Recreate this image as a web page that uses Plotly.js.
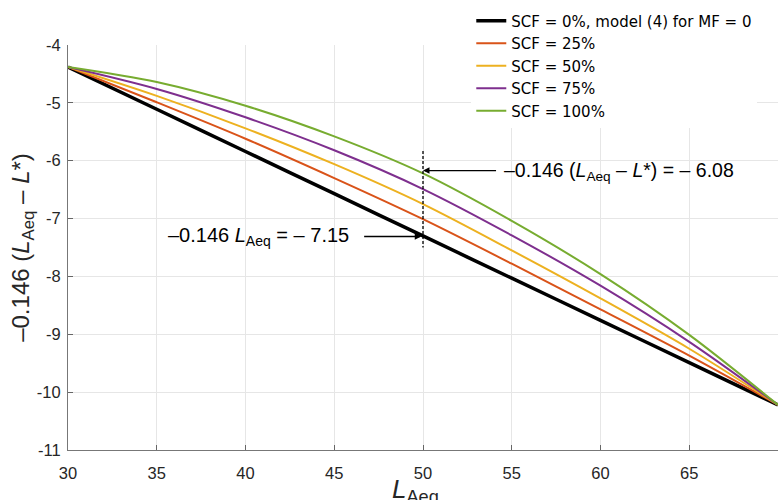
<!DOCTYPE html>
<html>
<head>
<meta charset="utf-8">
<script src="https://cdn.plot.ly/plotly-3.0.1.min.js"></script>
<style>html,body{margin:0;padding:0;background:#fff;}#chart{width:783px;height:500px;}</style>
</head>
<body>
<div id="chart"></div>
<script>
// L_Aeq sample points
const lAeq = [30, 35, 40, 45, 50, 55, 60, 65, 70];
// -0.146 (L_Aeq - L*) for each SCF
const scf0   = [-4.38, -5.11, -5.84, -6.57, -7.30, -8.03, -8.76, -9.49, -10.22];
const scf25  = [-4.38, -4.99, -5.62, -6.30, -7.01, -7.78, -8.57, -9.37, -10.22];
const scf50  = [-4.38, -4.88, -5.44, -6.06, -6.75, -7.55, -8.38, -9.25, -10.22];
const scf75  = [-4.38, -4.76, -5.25, -5.82, -6.49, -7.29, -8.16, -9.13, -10.22];
const scf100 = [-4.38, -4.64, -5.05, -5.58, -6.22, -7.04, -7.96, -9.01, -10.22];
const seriesNames = ['SCF = 0%, model (4) for MF = 0', 'SCF = 25%', 'SCF = 50%', 'SCF = 75%', 'SCF = 100%'];
// tick labels
const xTickVals = [30, 35, 40, 45, 50, 55, 60, 65, 70];
const xTickText = ['30', '35', '40', '45', '50', '55', '60', '65', '70'];
const yTickVals = [-11, -10, -9, -8, -7, -6, -5, -4];
const yTickText = ['-11', '-10', '-9', '-8', '-7', '-6', '-5', '-4'];

const colors = ['#000000', '#D95319', '#EDB120', '#7E2F8E', '#77AC30'];
const widths = [3.5, 2, 2, 2, 2];
const ys = [scf0, scf25, scf50, scf75, scf100];

const traces = ys.map((y, i) => ({
  x: lAeq, y: y, type: 'scatter', mode: 'lines', name: seriesNames[i],
  line: {color: colors[i], width: widths[i], shape: 'spline', smoothing: 0.9}
}));

const font = 'Liberation Sans, Arial, Helvetica, sans-serif';
const layout = {
  width: 783, height: 500,
  margin: {l: 68, r: 5, t: 38, b: 50},
  paper_bgcolor: '#ffffff', plot_bgcolor: '#ffffff',
  font: {family: font, size: 16.5, color: '#262626'},
  showlegend: true,
  xaxis: {
    range: [30, 70], tickmode: 'array', tickvals: xTickVals, ticktext: xTickText,
    ticks: 'inside', ticklen: 5, tickcolor: '#666', tickwidth: 1,
    showline: true, linecolor: '#777', linewidth: 1, mirror: false,
    showgrid: true, gridcolor: '#e6e6e6', gridwidth: 1, zeroline: false,
    tickfont: {size: 16.5, color: '#262626'}, ticklabelstandoff: 8
  },
  yaxis: {
    range: [-11, -4], tickmode: 'array', tickvals: yTickVals, ticktext: yTickText,
    ticks: 'inside', ticklen: 5, tickcolor: '#666', tickwidth: 1,
    showline: true, linecolor: '#777', linewidth: 1, mirror: false,
    showgrid: true, gridcolor: '#e6e6e6', gridwidth: 1, zeroline: false,
    tickfont: {size: 16.5, color: '#262626'}, ticklabelstandoff: 3,
    title: {text: '\u20130.146 (<i>L</i><sub>Aeq</sub> \u2013 <i>L</i>*)', font: {size: 24, color: '#262626'}, standoff: 0}
  },
  legend: {
    x: 0.568, xanchor: 'left', y: 1.1, yanchor: 'top',
    bgcolor: '#ffffff', borderwidth: 0,
    font: {family: 'DejaVu Sans, Liberation Sans, sans-serif', size: 15, color: '#000'},
    tracegroupgap: 0
  },
  shapes: [{
    type: 'line', xref: 'x', yref: 'y', x0: 50, x1: 50, y0: -5.83, y1: -7.50,
    line: {color: '#000', width: 1.3, dash: '3px,2px'}
  }],
  annotations: [
    {x: 0.49, y: -0.054, xref: 'paper', yref: 'paper', xanchor: 'center', yanchor: 'top', showarrow: false,
     text: '<i>L</i><sub>Aeq</sub>', font: {family: font, size: 26, color: '#262626'}},
    {x: 50, y: -6.17, ax: 54.2, ay: -6.17, xref: 'x', yref: 'y', axref: 'x', ayref: 'y',
     text: '', showarrow: true, arrowhead: 2, arrowsize: 1, arrowwidth: 1.3, arrowcolor: '#000'},
    {x: 54.45, y: -6.18, xref: 'x', yref: 'y', xanchor: 'left', yanchor: 'middle', showarrow: false,
     text: '\u20130.146 (<i>L</i><sub>Aeq</sub> \u2013 <i>L</i>*) = \u2013 6.08', font: {family: font, size: 19.5, color: '#000'}},
    {x: 49.9, y: -7.31, ax: 46.6, ay: -7.31, xref: 'x', yref: 'y', axref: 'x', ayref: 'y',
     text: '', showarrow: true, arrowhead: 2, arrowsize: 1, arrowwidth: 1.3, arrowcolor: '#000'},
    {x: 45.92, y: -7.31, xref: 'x', yref: 'y', xanchor: 'right', yanchor: 'middle', showarrow: false,
     text: '\u20130.146 <i>L</i><sub>Aeq</sub> = \u2013 7.15', font: {family: font, size: 20, color: '#000'}}
  ]
};

Plotly.newPlot('chart', traces, layout, {displayModeBar: false, staticPlot: true});
</script>
</body>
</html>
